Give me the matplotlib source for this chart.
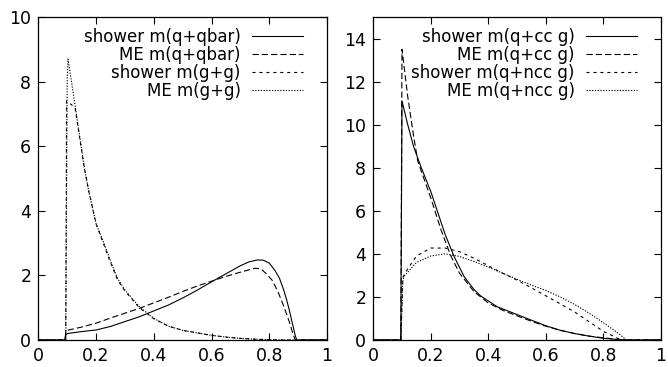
import matplotlib
matplotlib.use('Agg')
import matplotlib.pyplot as plt

# ---- left panel: q+qbar and g+g mass distributions ----
qq_sh_x = [0.0, 0.092, 0.095, 0.1, 0.15, 0.2, 0.25, 0.3, 0.35, 0.4, 0.45, 0.5, 0.55, 0.6,
           0.65, 0.7, 0.73, 0.76, 0.78, 0.8, 0.82, 0.835, 0.85, 0.86, 0.87, 0.88, 0.89, 0.895, 1.0]
qq_sh_y = [0.0, 0.0, 0.15, 0.2, 0.26, 0.31, 0.42, 0.57, 0.72, 0.9, 1.08, 1.3, 1.54, 1.8,
           2.05, 2.3, 2.42, 2.48, 2.47, 2.38, 2.15, 1.92, 1.55, 1.25, 0.9, 0.52, 0.14, 0.0, 0.0]

qq_me_x = [0.0, 0.092, 0.095, 0.1, 0.15, 0.2, 0.25, 0.3, 0.35, 0.4, 0.45, 0.5, 0.55, 0.6,
           0.65, 0.7, 0.75, 0.77, 0.79, 0.81, 0.83, 0.85, 0.86, 0.87, 0.88, 0.89, 1.0]
qq_me_y = [0.0, 0.0, 0.22, 0.3, 0.4, 0.52, 0.68, 0.83, 0.98, 1.15, 1.32, 1.5, 1.67, 1.82,
           1.97, 2.1, 2.22, 2.21, 2.05, 1.85, 1.5, 1.05, 0.8, 0.55, 0.25, 0.0, 0.0]

gg_sh_x = [0.0, 0.095, 0.098, 0.127, 0.14, 0.16, 0.175, 0.2, 0.225, 0.25, 0.275, 0.3,
           0.35, 0.4, 0.45, 0.5, 0.55, 0.6, 0.65, 0.7, 0.75, 0.8, 0.85, 1.0]
gg_sh_y = [0.0, 0.0, 7.4, 7.2, 6.45, 5.3, 4.6, 3.6, 3.0, 2.4, 1.85, 1.52,
           1.0, 0.66, 0.43, 0.3, 0.22, 0.145, 0.09, 0.05, 0.025, 0.01, 0.0, 0.0]

gg_me_x = [0.0, 0.095, 0.1, 0.103, 0.12, 0.14, 0.16, 0.175, 0.2, 0.225, 0.25, 0.275, 0.3,
           0.35, 0.4, 0.45, 0.5, 0.55, 0.6, 0.65, 0.7, 0.75, 0.8, 0.85, 1.0]
gg_me_y = [0.0, 0.0, 8.0, 8.7, 7.7, 6.5, 5.3, 4.6, 3.6, 3.05, 2.45, 1.9, 1.55,
           1.03, 0.67, 0.43, 0.3, 0.22, 0.145, 0.09, 0.05, 0.025, 0.01, 0.0, 0.0]

# ---- right panel: q + colour-connected / non-colour-connected g ----
cc_sh_x = [0.0, 0.096, 0.1, 0.12, 0.14, 0.167, 0.2, 0.22, 0.25, 0.281, 0.316, 0.35, 0.373,
           0.43, 0.5, 0.55, 0.6, 0.65, 0.7, 0.75, 0.8, 0.85, 0.883, 1.0]
cc_sh_y = [0.0, 0.0, 11.1, 10.0, 9.0, 8.0, 6.9, 6.1, 4.9, 3.88, 2.94, 2.35, 2.05,
           1.55, 1.18, 0.92, 0.66, 0.45, 0.3, 0.18, 0.08, 0.02, 0.0, 0.0]

cc_me_x = [0.0, 0.096, 0.1, 0.12, 0.14, 0.155, 0.2, 0.236, 0.27, 0.3, 0.35, 0.4, 0.45,
           0.5, 0.55, 0.6, 0.65, 0.7, 0.75, 0.8, 0.85, 0.88, 1.0]
cc_me_y = [0.0, 0.0, 13.5, 11.3, 9.5, 8.3, 6.6, 5.1, 3.9, 3.1, 2.25, 1.72, 1.38,
           1.12, 0.87, 0.64, 0.45, 0.3, 0.18, 0.1, 0.03, 0.0, 0.0]

ncc_sh_x = [0.0, 0.096, 0.103, 0.11, 0.15, 0.2, 0.25, 0.3, 0.35, 0.4, 0.45, 0.5, 0.55,
            0.6, 0.65, 0.7, 0.75, 0.8, 0.85, 0.87, 1.0]
ncc_sh_y = [0.0, 0.0, 2.9, 3.1, 3.9, 4.27, 4.27, 4.1, 3.8, 3.45, 3.1, 2.78, 2.42,
            2.05, 1.68, 1.3, 0.85, 0.4, 0.08, 0.0, 0.0]

ncc_me_x = [0.0, 0.096, 0.103, 0.11, 0.15, 0.2, 0.25, 0.3, 0.35, 0.4, 0.45, 0.5, 0.55,
            0.6, 0.65, 0.7, 0.75, 0.8, 0.85, 0.88, 1.0]
ncc_me_y = [0.0, 0.0, 2.8, 3.0, 3.6, 3.9, 4.0, 3.88, 3.65, 3.38, 3.1, 2.82, 2.55,
            2.3, 2.0, 1.65, 1.25, 0.8, 0.33, 0.0, 0.0]

left_labels = ['shower m(q+qbar)', 'ME m(q+qbar)', 'shower m(g+g)', 'ME m(g+g)']
right_labels = ['shower m(q+cc g)', 'ME m(q+cc g)', 'shower m(q+ncc g)', 'ME m(q+ncc g)']

plt.rcParams['font.family'] = 'DejaVu Sans'
plt.rcParams['lines.scale_dashes'] = False

styles = [dict(linestyle='-'),
          dict(dashes=(4.5, 2.2)),
          dict(dashes=(2.2, 2.8)),
          dict(dashes=(0.9, 1.1))]

fig = plt.figure(figsize=(6.68, 3.67), dpi=100)
ax1 = fig.add_axes([38.3 / 668, 1 - 340 / 367, (327 - 38.3) / 668, 323 / 367])
ax2 = fig.add_axes([373.2 / 668, 1 - 340 / 367, (661 - 373.2) / 668, 323 / 367])

series_left = [(qq_sh_x, qq_sh_y), (qq_me_x, qq_me_y), (gg_sh_x, gg_sh_y), (gg_me_x, gg_me_y)]
series_right = [(cc_sh_x, cc_sh_y), (cc_me_x, cc_me_y), (ncc_sh_x, ncc_sh_y), (ncc_me_x, ncc_me_y)]

for ax, series, labels, ymax, yt in [(ax1, series_left, left_labels, 10, range(0, 11, 2)),
                                     (ax2, series_right, right_labels, 15, range(0, 15, 2))]:
    for (xs, ys), lab, st in zip(series, labels, styles):
        ax.plot(xs, ys, color='black', linewidth=0.8, label=lab, **st)
    ax.set_xlim(0, 1)
    ax.set_ylim(0, ymax)
    ax.set_xticks([0, 0.2, 0.4, 0.6, 0.8, 1])
    ax.set_xticklabels(['0', '0.2', '0.4', '0.6', '0.8', '1'])
    ax.set_yticks(list(yt))
    ax.tick_params(direction='in', length=5, width=0.8, top=True, right=True,
                   labelsize=12.5, pad=5)
    for sp in ax.spines.values():
        sp.set_linewidth(0.9)
    leg = ax.legend(loc='upper right', frameon=False, markerfirst=False,
                    fontsize=12, handlelength=3.1, handletextpad=0.65,
                    labelspacing=0.0, borderaxespad=0.25, bbox_to_anchor=(0.955, 1.0))

fig.savefig('out.png', dpi=100)
